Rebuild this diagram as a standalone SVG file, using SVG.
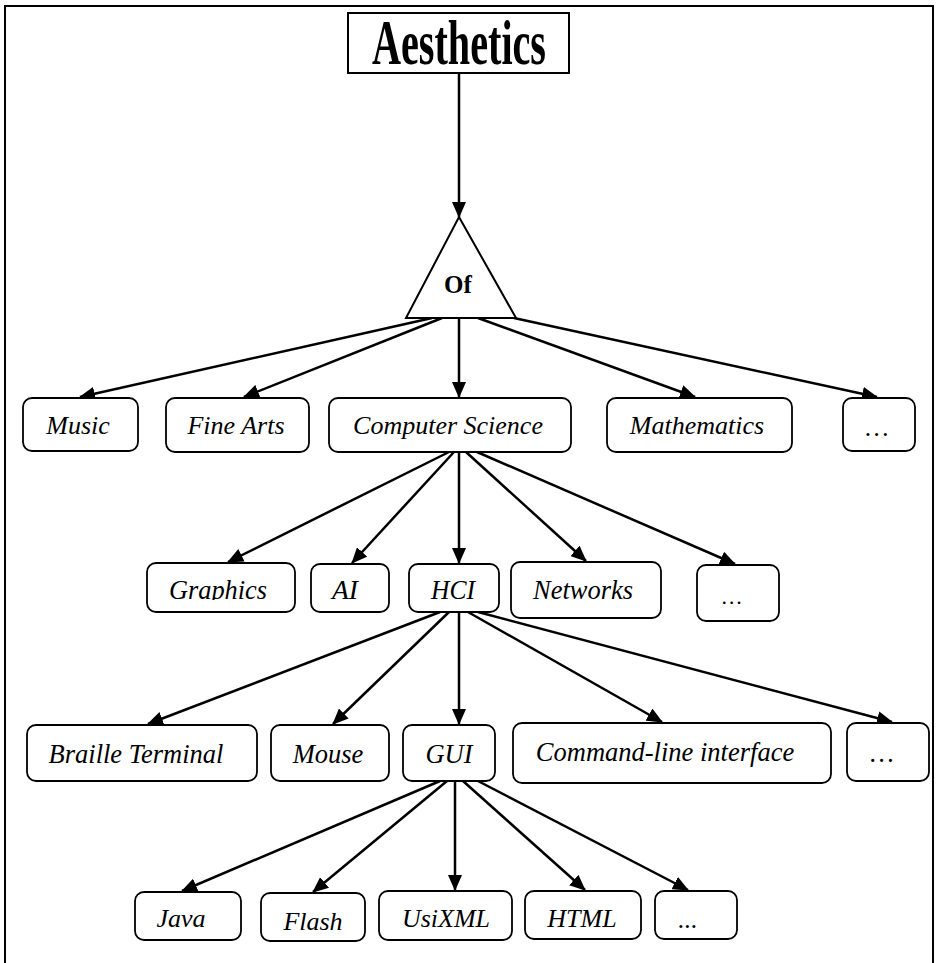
<svg xmlns="http://www.w3.org/2000/svg" width="938" height="963" viewBox="0 0 938 963">
  <style>
    .frame { fill: none; stroke: #000; stroke-width: 2; }
    .box { fill: #fff; stroke: #000; stroke-width: 1.8; }
    .tri { fill: #fff; stroke: #000; stroke-width: 2; }
    .lbl { font-family: "Liberation Serif", "Times New Roman", serif; font-style: italic; fill: #000; text-anchor: middle; }
    .r1 { font-size: 26px; }
    .r2 { font-size: 28px; }
    .r3 { font-size: 26.5px; }
    .r4 { font-size: 26px; }
    .title { font-family: "Liberation Serif", "Times New Roman", serif; font-weight: bold; font-size: 64px; fill: #000; text-anchor: middle; }
    .of { font-family: "Liberation Serif", "Times New Roman", serif; font-weight: bold; font-size: 25px; fill: #000; text-anchor: middle; }
    .edges line { stroke: #000; stroke-width: 2.5; fill: none; marker-end: url(#arrow); }
  </style>
  <defs>
    <marker id="arrow" markerUnits="userSpaceOnUse" markerWidth="16" markerHeight="14" viewBox="0 0 16 14" refX="15" refY="7" orient="auto">
      <path d="M0,0 L16,7 L0,14 z" fill="#000"/>
    </marker>
    <clipPath id="clipGraphics">
      <rect x="147" y="563" width="148" height="37"/>
    </clipPath>
  </defs>

  <rect width="938" height="963" fill="#fff"/>
  <!-- page frame, open at the bottom -->
  <path class="frame" d="M5,963 L5,6 L933,6 L933,963"/>

  <!-- connectors -->
  <g id="edges" class="edges">
    <line x1="459" y1="73" x2="459" y2="217"/>

    <line x1="432" y1="318" x2="80" y2="397"/>
    <line x1="442" y1="318" x2="244" y2="397"/>
    <line x1="459" y1="318" x2="459" y2="397"/>
    <line x1="478" y1="318" x2="695" y2="397"/>
    <line x1="514" y1="318" x2="877" y2="397"/>

    <line x1="449" y1="452" x2="228" y2="562"/>
    <line x1="454" y1="452" x2="352" y2="563"/>
    <line x1="459" y1="452" x2="459" y2="563"/>
    <line x1="466" y1="452" x2="586" y2="561"/>
    <line x1="477" y1="452" x2="735" y2="564"/>

    <line x1="440" y1="612" x2="148" y2="724"/>
    <line x1="449" y1="612" x2="333" y2="724"/>
    <line x1="459" y1="612" x2="459" y2="724"/>
    <line x1="468" y1="612" x2="662" y2="722"/>
    <line x1="478" y1="612" x2="892" y2="722"/>

    <line x1="440" y1="781" x2="182" y2="891"/>
    <line x1="447" y1="781" x2="313" y2="892"/>
    <line x1="455" y1="781" x2="455" y2="890"/>
    <line x1="463" y1="781" x2="585" y2="890"/>
    <line x1="478" y1="781" x2="688" y2="890"/>
  </g>

  <!-- root -->
  <g id="aesthetics">
    <rect x="348" y="13" width="221" height="60" fill="#fff" stroke="#000" stroke-width="2"/>
    <text class="title" x="459" y="64" textLength="174" lengthAdjust="spacingAndGlyphs">Aesthetics</text>
  </g>

  <g id="of">
    <polygon class="tri" points="459,217 516,318 406,318"/>
    <text class="of" x="458" y="293">Of</text>
  </g>

  <!-- level 1 -->
  <g id="music">
    <rect class="box" x="23" y="398" width="115" height="53" rx="9"/>
    <text class="lbl r1" x="78" y="434">Music</text>
  </g>
  <g id="fine-arts">
    <rect class="box" x="166" y="398" width="143" height="54" rx="9"/>
    <text class="lbl r1" x="236" y="434">Fine Arts</text>
  </g>
  <g id="computer-science">
    <rect class="box" x="329" y="398" width="242" height="54" rx="9"/>
    <text class="lbl r1" x="448" y="434">Computer Science</text>
  </g>
  <g id="mathematics">
    <rect class="box" x="607" y="398" width="185" height="54" rx="9"/>
    <text class="lbl r1" x="697" y="434">Mathematics</text>
  </g>
  <g id="more-1">
    <rect class="box" x="843" y="398" width="72" height="53" rx="9"/>
    <text class="lbl r1" x="877" y="436">…</text>
  </g>

  <!-- level 2 -->
  <g id="graphics">
    <rect class="box" x="147" y="563" width="148" height="49" rx="9"/>
    <text class="lbl r2" x="218" y="599" textLength="98" lengthAdjust="spacingAndGlyphs" clip-path="url(#clipGraphics)">Graphics</text>
  </g>
  <g id="ai">
    <rect class="box" x="311" y="564" width="78" height="48" rx="9"/>
    <text class="lbl r2" x="345" y="599" textLength="26" lengthAdjust="spacingAndGlyphs">AI</text>
  </g>
  <g id="hci">
    <rect class="box" x="409" y="564" width="90" height="48" rx="9"/>
    <text class="lbl r2" x="453" y="599" textLength="44" lengthAdjust="spacingAndGlyphs">HCI</text>
  </g>
  <g id="networks">
    <rect class="box" x="511" y="562" width="150" height="56" rx="9"/>
    <text class="lbl r2" x="583" y="599" textLength="100" lengthAdjust="spacingAndGlyphs">Networks</text>
  </g>
  <g id="more-2">
    <rect class="box" x="697" y="565" width="82" height="56" rx="9"/>
    <text class="lbl" x="732" y="604" font-size="22">…</text>
  </g>

  <!-- level 3 -->
  <g id="braille-terminal">
    <rect class="box" x="27" y="725" width="230" height="56" rx="9"/>
    <text class="lbl r3" x="136" y="763">Braille Terminal</text>
  </g>
  <g id="mouse">
    <rect class="box" x="271" y="725" width="118" height="56" rx="9"/>
    <text class="lbl r3" x="328" y="763">Mouse</text>
  </g>
  <g id="gui">
    <rect class="box" x="403" y="725" width="92" height="56" rx="9"/>
    <text class="lbl r3" x="449" y="763">GUI</text>
  </g>
  <g id="command-line-interface">
    <rect class="box" x="513" y="723" width="318" height="60" rx="9"/>
    <text class="lbl r3" x="665" y="761">Command-line interface</text>
  </g>
  <g id="more-3">
    <rect class="box" x="847" y="723" width="82" height="58" rx="9"/>
    <text class="lbl r3" x="882" y="762">…</text>
  </g>

  <!-- level 4 -->
  <g id="java">
    <rect class="box" x="135" y="892" width="106" height="48" rx="9"/>
    <text class="lbl r4" x="181" y="927">Java</text>
  </g>
  <g id="flash">
    <rect class="box" x="261" y="893" width="104" height="48" rx="9"/>
    <text class="lbl r4" x="313" y="930">Flash</text>
  </g>
  <g id="usixml">
    <rect class="box" x="379" y="891" width="133" height="49" rx="9"/>
    <text class="lbl r4" x="446" y="927">UsiXML</text>
  </g>
  <g id="html">
    <rect class="box" x="525" y="891" width="116" height="48" rx="9"/>
    <text class="lbl r4" x="582" y="927">HTML</text>
  </g>
  <g id="more-4">
    <rect class="box" x="655" y="891" width="82" height="48" rx="9"/>
    <text class="lbl r4" x="688" y="928">...</text>
  </g>
</svg>
